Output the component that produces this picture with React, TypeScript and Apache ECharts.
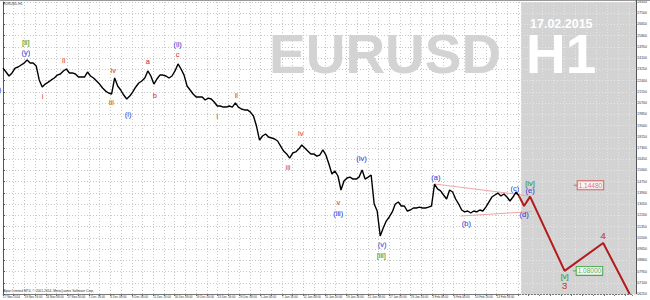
import React, { useEffect, useRef } from "react";
import * as echarts from "echarts";

// ---- data (H1 EURUSD, sampled every BAR_STEP bars) ----
const BAR_STEP = 9;
const closes = [
  1.2335, 1.2305, 1.2275, 1.2298, 1.2335, 1.2343, 1.2358, 1.2373, 1.2396, 1.2373,
  1.2373, 1.2351, 1.2245, 1.2192, 1.2214, 1.2229, 1.2245, 1.2260, 1.2282, 1.2290,
  1.2313, 1.2328, 1.2298, 1.2298, 1.2290, 1.2267, 1.2267, 1.2267, 1.2305, 1.2275,
  1.2260, 1.2237, 1.2214, 1.2184, 1.2161, 1.2146, 1.2139, 1.2260, 1.2199, 1.2169,
  1.2131, 1.2101, 1.2123, 1.2154, 1.2192, 1.2222, 1.2237, 1.2260, 1.2313, 1.2275,
  1.2214, 1.2252, 1.2282, 1.2282, 1.2275, 1.2260, 1.2275, 1.2313, 1.2366, 1.2328,
  1.2282, 1.2199, 1.2169, 1.2139, 1.2116, 1.2116, 1.2116, 1.2093, 1.2108, 1.2101,
  1.2078, 1.2048, 1.2048, 1.2040, 1.2040, 1.2048, 1.2040, 1.2071, 1.2040, 1.2025,
  1.2018, 1.2018, 1.2002, 1.1972, 1.1896, 1.1790, 1.1821, 1.1836, 1.1813, 1.1806,
  1.1798, 1.1783, 1.1745, 1.1707, 1.1685, 1.1654, 1.1692, 1.1700, 1.1722, 1.1753,
  1.1730, 1.1707, 1.1685, 1.1685, 1.1669, 1.1677, 1.1715, 1.1677, 1.1609, 1.1533,
  1.1556, 1.1518, 1.1412, 1.1480, 1.1503, 1.1510, 1.1495, 1.1495, 1.1510, 1.1563,
  1.1495, 1.1510, 1.1526, 1.1306, 1.1253, 1.1064, 1.1124, 1.1177, 1.1208, 1.1246,
  1.1306, 1.1321, 1.1291, 1.1291, 1.1253, 1.1261, 1.1276, 1.1276, 1.1283, 1.1276,
  1.1276, 1.1283, 1.1291, 1.1457, 1.1420, 1.1405, 1.1374, 1.1344, 1.1412, 1.1397,
  1.1344, 1.1306, 1.1261, 1.1246, 1.1253, 1.1238, 1.1253, 1.1246, 1.1261, 1.1253,
  1.1283, 1.1321, 1.1359, 1.1374, 1.1389, 1.1367, 1.1382, 1.1359, 1.1329, 1.1359,
  1.1397, 1.1367,
];

const dateLabels = [
  "17 Nov 2014", "19 Nov 16:00", "24 Nov 08:00", "27 Nov 00:00", "1 Dec 16:00",
  "4 Dec 08:00", "9 Dec 00:00", "11 Dec 16:00", "16 Dec 08:00", "19 Dec 00:00",
  "23 Dec 16:00", "29 Dec 08:00", "5 Jan 00:00", "7 Jan 16:00", "12 Jan 08:00",
  "15 Jan 00:00", "19 Jan 16:00", "22 Jan 08:00", "27 Jan 00:00", "29 Jan 16:00",
  "3 Feb 08:00", "6 Feb 00:00", "10 Feb 16:00", "13 Feb 08:00",
];
const LABEL_EVERY = 64;
const GRID_EVERY = 32;
const X_MAX = 1877;
const FUTURE_START = 1536;

const Y_MIN = 1.0625;
const Y_MAX = 1.2835;
const Y_STEP = 0.0085;

const forecastBars = [1539, 1554, 1572, 1675, 1790, 1869];
const forecastPrices = [1.1367, 1.1291, 1.1362, 1.08, 1.1011, 1.0625];

const upperBars = [1289, 1572];
const upperPrices = [1.1457, 1.1367];
const lowerBars = [1365, 1578];
const lowerPrices = [1.1215, 1.1249];

const greenWaves = [
  { t: "[ii]", bar: 68, p: 1.2532 },
  { t: "[iii]", bar: 1128, p: 1.0913 },
  { t: "[iv]", bar: 1572, p: 1.1465 },
  { t: "[v]", bar: 1675, p: 1.0754 },
];
const blueWaves = [
  { t: "(x)", bar: -18, p: 1.2169 },
  { t: "(y)", bar: 68, p: 1.2456 },
  { t: "(i)", bar: 373, p: 1.198 },
  { t: "(ii)", bar: 521, p: 1.2517 },
  { t: "(iii)", bar: 1000, p: 1.1238 },
  { t: "(iv)", bar: 1069, p: 1.1654 },
  { t: "(v)", bar: 1131, p: 1.1003 },
  { t: "(a)", bar: 1291, p: 1.151 },
  { t: "(b)", bar: 1382, p: 1.1155 },
  { t: "(c)", bar: 1527, p: 1.142 },
  { t: "(d)", bar: 1554, p: 1.1223 },
  { t: "(e)", bar: 1572, p: 1.1405 },
];
const redWaves = [
  { t: "i", bar: 118, p: 1.2116 },
  { t: "ii", bar: 181, p: 1.2396 },
  { t: "iii", bar: 323, p: 1.2071 },
  { t: "iv", bar: 329, p: 1.232 },
  { t: "i", bar: 639, p: 1.1965 },
  { t: "ii", bar: 696, p: 1.2131 },
  { t: "iii", bar: 850, p: 1.1579 },
  { t: "iv", bar: 888, p: 1.1843 },
  { t: "v", bar: 1000, p: 1.1321 },
];
const abcWaves = [
  { t: "a", bar: 432, p: 1.2381 },
  { t: "b", bar: 453, p: 1.2131 },
  { t: "c", bar: 521, p: 1.2434 },
];
const bigWaves = [
  { t: "3", bar: 1675, p: 1.0686 },
  { t: "4", bar: 1790, p: 1.1064 },
];
const priceTags = [
  { t: "1.14480", bar: 1708, p: 1.1448, color: "#d24a4a" },
  { t: "1.08000", bar: 1705, p: 1.08, color: "#2e9a2e" },
];

const FONT = "Liberation Sans, Arial, sans-serif";
const GREEN = "#22922a";
const BLUE = "#2c36d4";
const ORANGE_RED = "#e0401f";
const RED = "#d01f1f";

function waveItems(list: { t: string; bar: number; p: number }[], color: string, size: number) {
  return list.map((w) => ({
    name: w.t,
    value: [w.bar, w.p],
    label: { color, fontSize: size, textBorderWidth: 0.2, textBorderColor: color },
  }));
}

export default function App() {
  const ref = useRef<HTMLDivElement>(null);
  useEffect(() => {
    if (!ref.current) return;
    const chart = echarts.init(ref.current, undefined, { renderer: "svg" });
    const lastClose = closes[closes.length - 1];
    const dotted = (color: string) => ({ show: true, lineStyle: { color, type: [1, 2] as any, width: 1 } });

    const option: any = {
      animation: false,
      textStyle: { fontFamily: FONT },
      grid: [
        { left: 2, right: 14, top: 2, bottom: 6, show: false },
        { left: 521, right: 14, top: 2, bottom: 6, show: true, backgroundColor: "#d3d3d3", borderWidth: 0, z: 1 },
      ],
      xAxis: [
        {
          type: "value",
          gridIndex: 0,
          min: 0,
          max: X_MAX,
          interval: GRID_EVERY,
          z: 0,
          axisLine: { show: true, lineStyle: { color: "#777", width: 1 } },
          axisTick: { show: true, length: 2, lineStyle: { color: "#777" } },
          axisLabel: {
            fontSize: 3,
            color: "#333",
            margin: 1.5,
            align: "left",
            formatter: (v: number) => {
              const k = Math.round(v / LABEL_EVERY);
              if (Math.abs(v - k * LABEL_EVERY) > 0.01) return "";
              return dateLabels[k] ?? "";
            },
          },
          splitLine: dotted("#c8c8c8"),
        },
        {
          type: "value",
          gridIndex: 1,
          min: FUTURE_START,
          max: X_MAX,
          interval: GRID_EVERY,
          z: 2,
          axisLine: { show: false },
          axisTick: { show: false },
          axisLabel: { show: false },
          splitLine: dotted("#e6e6e6"),
        },
      ],
      yAxis: [
        {
          type: "value",
          gridIndex: 0,
          position: "right",
          min: Y_MIN,
          max: Y_MAX,
          interval: Y_STEP,
          z: 0,
          axisLine: { show: true, lineStyle: { color: "#555", width: 1 } },
          axisTick: { show: true, length: 2, lineStyle: { color: "#555" } },
          axisLabel: { fontSize: 3.5, color: "#333", margin: 2, formatter: (v: number) => v.toFixed(5) },
          splitLine: dotted("#c8c8c8"),
        },
        {
          type: "value",
          gridIndex: 1,
          position: "right",
          min: Y_MIN,
          max: Y_MAX,
          interval: Y_STEP,
          z: 2,
          axisLine: { show: false },
          axisTick: { show: false },
          axisLabel: { show: false },
          splitLine: dotted("#e6e6e6"),
        },
      ],
      series: [
        {
          type: "line",
          name: "EURUSD",
          xAxisIndex: 0,
          yAxisIndex: 0,
          z: 5,
          symbol: "none",
          data: closes.map((p, i) => [i * BAR_STEP, p]),
          lineStyle: { color: "#000", width: 1.4 },
          markLine: {
            silent: true,
            symbol: "none",
            data: [{ yAxis: lastClose }],
            lineStyle: { opacity: 0 },
            label: {
              position: "end",
              distance: 0,
              formatter: lastClose.toFixed(5),
              backgroundColor: "#000",
              color: "#fff",
              fontSize: 3.5,
              padding: [1, 1],
            },
          },
        },
        {
          type: "line",
          name: "upper",
          z: 4,
          symbol: "none",
          data: upperBars.map((b, i) => [b, upperPrices[i]]),
          lineStyle: { color: "#eea4a4", width: 1 },
        },
        {
          type: "line",
          name: "lower",
          z: 4,
          symbol: "none",
          data: lowerBars.map((b, i) => [b, lowerPrices[i]]),
          lineStyle: { color: "#eea4a4", width: 1 },
        },
        {
          type: "line",
          name: "forecast",
          z: 6,
          symbol: "none",
          data: forecastBars.map((b, i) => [b, forecastPrices[i]]),
          lineStyle: { color: "#b31b1b", width: 2 },
        },
        {
          type: "scatter",
          name: "waves",
          z: 7,
          clip: false,
          symbolSize: 1,
          itemStyle: { color: "rgba(0,0,0,0)" },
          label: {
            show: true,
            position: "inside",
            formatter: (p: any) => p.name,
            fontFamily: FONT,
          },
          data: [
            ...waveItems(greenWaves, GREEN, 7.5),
            ...waveItems(blueWaves, BLUE, 7.5),
            ...waveItems(redWaves, ORANGE_RED, 7.5),
            ...waveItems(abcWaves, RED, 7.5),
            ...waveItems(bigWaves, "#c42a2a", 9.5),
          ],
        },
        {
          type: "scatter",
          name: "tags",
          z: 8,
          symbol: "rect",
          symbolSize: [4, 1],
          data: priceTags.map((t) => ({
            name: t.t,
            value: [t.bar, t.p],
            itemStyle: { color: t.color },
            label: {
              show: true,
              position: "right",
              distance: 0,
              formatter: t.t,
              color: t.color,
              fontSize: 6.5,
              backgroundColor: "#fff",
              borderColor: t.color,
              borderWidth: 1,
              padding: [1, 1, 0, 1],
            },
          })),
        },
      ],
      graphic: [
        { type: "line", shape: { x1: 0, y1: 0.5, x2: 650, y2: 0.5 }, style: { stroke: "#999", lineWidth: 1 }, z: 3 },
        { type: "line", shape: { x1: 636.5, y1: 0, x2: 636.5, y2: 294 }, style: { stroke: "#555", lineWidth: 1 }, z: 3 },
        {
          type: "text",
          x: 269,
          y: 54,
          z: 3,
          style: { text: "EURUSD", font: `bold 55px ${FONT}`, verticalAlign: "middle", fill: "#d3d3d3" },
        },
        {
          type: "text",
          x: 526,
          y: 54,
          z: 3,
          style: { text: "H1", font: `bold 55px ${FONT}`, verticalAlign: "middle", fill: "#ffffff" },
        },
        {
          type: "text",
          x: 530,
          y: 23.5,
          z: 3,
          style: { text: "17.02.2015", font: `bold 12.5px ${FONT}`, verticalAlign: "middle", fill: "#ffffff" },
        },
        {
          type: "text",
          left: 3,
          top: 2,
          z: 3,
          style: { text: "EURUSD,H1", font: `3.4px ${FONT}`, fill: "#333" },
        },
        {
          type: "text",
          left: 3,
          top: 289,
          z: 3,
          style: { text: "Alpari Limited MT4, © 2001-2014, MetaQuotes Software Corp.", font: `3.3px ${FONT}`, fill: "#333" },
        },
      ],
    };
    chart.setOption(option);
    return () => chart.dispose();
  }, []);
  return <div ref={ref} style={{ width: 650, height: 300, position: "absolute", left: 0, top: 0 }} />;
}
